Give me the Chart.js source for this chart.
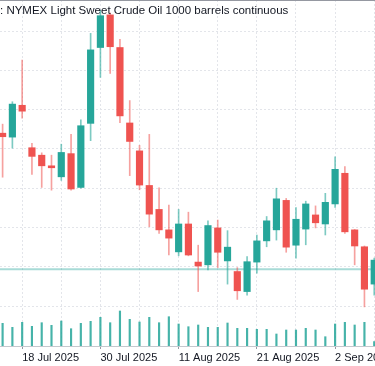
<!DOCTYPE html>
<html>
<head>
<meta charset="utf-8">
<script src="https://cdn.jsdelivr.net/npm/chart.js@4/dist/chart.umd.min.js"></script>
<style>
  html, body { margin: 0; padding: 0; background: #fff; }
  #wrap { width: 375px; height: 366px; position: relative; }
</style>
</head>
<body>
<div id="wrap"><canvas id="oilChart"></canvas></div>
<script>
const dates = [
  "2025-07-16", "2025-07-17", "2025-07-18", "2025-07-21", "2025-07-22", "2025-07-23", "2025-07-24", "2025-07-25",
  "2025-07-28", "2025-07-29", "2025-07-30", "2025-07-31", "2025-08-01", "2025-08-04", "2025-08-05", "2025-08-06",
  "2025-08-07", "2025-08-08", "2025-08-11", "2025-08-12", "2025-08-13", "2025-08-14", "2025-08-15", "2025-08-18",
  "2025-08-19", "2025-08-20", "2025-08-21", "2025-08-22", "2025-08-25", "2025-08-26", "2025-08-27", "2025-08-28",
  "2025-08-29", "2025-09-01", "2025-09-02", "2025-09-03", "2025-09-04", "2025-09-05", "2025-09-08"
];
const openP  = [67.40, 67.30, 68.11, 67.03, 66.84, 66.57, 66.29, 66.88, 66.02, 67.65, 69.58, 70.41, 69.58, 67.66, 66.95, 66.07, 65.46, 64.94, 64.38, 65.09, 64.12, 64.05, 64.99, 64.15, 63.88, 63.37, 64.12, 64.66, 64.94, 65.69, 64.55, 64.96, 65.32, 65.09, 65.60, 66.38, 64.94, 64.51, 63.56];
const highP  = [67.63, 68.20, 69.26, 67.14, 66.90, 66.84, 67.12, 67.37, 67.74, 69.94, 70.53, 70.46, 69.79, 68.23, 67.09, 67.37, 66.01, 65.57, 65.46, 65.39, 64.55, 65.17, 65.19, 64.92, 63.98, 64.26, 64.81, 65.28, 66.00, 65.74, 65.51, 65.67, 65.55, 65.87, 66.80, 66.55, 64.95, 64.53, 64.22];
const lowP   = [66.28, 67.02, 67.78, 66.35, 66.02, 65.95, 66.20, 65.95, 66.00, 67.21, 68.82, 68.92, 67.67, 66.32, 65.96, 65.02, 64.85, 64.30, 64.28, 64.28, 63.37, 63.92, 63.98, 63.56, 63.17, 63.28, 63.84, 64.51, 64.68, 64.37, 64.22, 64.56, 64.99, 64.81, 65.51, 64.85, 64.05, 62.98, 63.28];
const closeP = [67.31, 68.14, 67.96, 66.81, 66.57, 66.52, 66.91, 65.98, 67.59, 69.52, 70.39, 69.60, 67.84, 67.19, 66.08, 65.34, 64.94, 64.73, 65.09, 64.30, 64.02, 65.05, 64.37, 64.50, 63.39, 64.13, 64.66, 65.17, 65.73, 64.50, 65.21, 65.60, 65.12, 65.64, 66.48, 64.89, 64.53, 63.43, 64.17];
// volume, thousands of contracts
const volume = [227, 187, 237, 197, 233, 207, 250, 173, 227, 247, 287, 233, 350, 267, 240, 287, 233, 293, 220, 193, 210, 187, 187, 230, 177, 177, 167, 167, 120, 160, 160, 177, 160, 93, 220, 237, 210, 237, 43];
const lastPrice = 63.94;
const priceGrid = [63, 64, 65, 66, 67, 68, 69, 70];
const titleText = "CL1!: NYMEX Light Sweet Crude Oil 1000 barrels continuous";

const upColor = "#26a69a";
const downColor = "#ef5350";
const upWick = "rgba(38,166,154,0.6)";
const downWick = "rgba(239,83,80,0.55)";
const gridColor = "#e3e5ea";
const textColor = "#131722";
const months = ["Jan", "Feb", "Mar", "Apr", "May", "Jun", "Jul", "Aug", "Sep", "Oct", "Nov", "Dec"];

// bar index range shown and the value ranges of the two panes
const xMin = -0.266, xMax = 38.08;
const yMin = 61.985, yMax = 70.789;
const volMax = 3460;

function fmtDate(s) {
  const p = s.split("-");
  return parseInt(p[2]) + " " + months[parseInt(p[1]) - 1] + " " + p[0];
}

const isUp = dates.map((d, i) => closeP[i] >= openP[i]);
const gridIdx = dates.map((d, i) => i).filter(i => i % 4 === 2);

const wicks = dates.map((d, i) => ({ x: i, y: [lowP[i], highP[i]] }));
const bodies = dates.map((d, i) => ({ x: i, y: [openP[i], closeP[i]] }));
const vols = dates.map((d, i) => ({ x: i, y: volume[i] }));

const overlay = {
  id: "overlay",
  afterDraw(chart) {
    const ctx = chart.ctx;
    ctx.save();
    ctx.strokeStyle = "#9598a1";
    ctx.lineWidth = 1;
    ctx.beginPath();
    ctx.moveTo(0, 0.5);
    ctx.lineTo(chart.width, 0.5);
    ctx.stroke();
    ctx.font = '11.5px "Liberation Sans", Arial, sans-serif';
    ctx.fillStyle = textColor;
    ctx.textBaseline = "alphabetic";
    const lead = ctx.measureText("CL1!").width;
    ctx.fillText(titleText, -lead, 14);
    ctx.restore();
  }
};

new Chart("oilChart", {
  data: {
    datasets: [
      {
        type: "bar",
        label: "Volume",
        data: vols,
        yAxisID: "vol",
        backgroundColor: "rgba(38,166,154,0.85)",
        barThickness: 1.5,
        grouped: false,
        order: 4
      },
      {
        type: "line",
        label: "Last",
        data: [{ x: xMin, y: lastPrice }, { x: xMax, y: lastPrice }],
        yAxisID: "y",
        borderColor: "rgba(38,166,154,0.4)",
        borderWidth: 2,
        pointRadius: 0,
        order: 3
      },
      {
        type: "bar",
        label: "Wick",
        data: wicks,
        yAxisID: "y",
        backgroundColor: isUp.map(u => u ? upWick : downWick),
        barThickness: 1,
        grouped: false,
        order: 2
      },
      {
        type: "bar",
        label: "Body",
        data: bodies,
        yAxisID: "y",
        backgroundColor: isUp.map(u => u ? upColor : downColor),
        barThickness: 6.5,
        grouped: false,
        order: 1
      }
    ]
  },
  options: {
    responsive: true,
    maintainAspectRatio: false,
    animation: false,
    layout: { padding: 0 },
    plugins: { legend: { display: false }, tooltip: { enabled: false }, title: { display: false } },
    scales: {
      x: {
        type: "linear",
        offset: false,
        min: xMin,
        max: xMax,
        afterBuildTicks: s => { s.ticks = gridIdx.map(v => ({ value: v })); },
        afterFit: s => { s.height = 20; s.paddingLeft = 0; s.paddingRight = 0; },
        ticks: {
          autoSkip: false,
          maxRotation: 0,
          align: "start",
          padding: 2,
          color: textColor,
          font: { family: '"Liberation Sans", Arial, sans-serif', size: 11 },
          callback: v => (v % 8 === 2 ? fmtDate(dates[v]) : "")
        },
        grid: {
          offset: false,
          color: gridColor,
          tickLength: 3,
          tickColor: c => (c.tick && c.tick.value % 8 === 2 ? "#9598a1" : "rgba(0,0,0,0)")
        },
        border: { display: true, color: "#c5c8ce", dash: [2, 2] }
      },
      y: {
        type: "linear",
        position: "right",
        min: yMin,
        max: yMax,
        afterBuildTicks: s => { s.ticks = priceGrid.map(v => ({ value: v })); },
        afterFit: s => { s.width = 0; },
        ticks: { display: false },
        grid: { color: gridColor, drawTicks: false },
        border: { display: false, dash: [2, 2] }
      },
      vol: {
        type: "linear",
        display: false,
        min: 0,
        max: volMax
      }
    }
  },
  plugins: [overlay]
});
</script>
</body>
</html>
